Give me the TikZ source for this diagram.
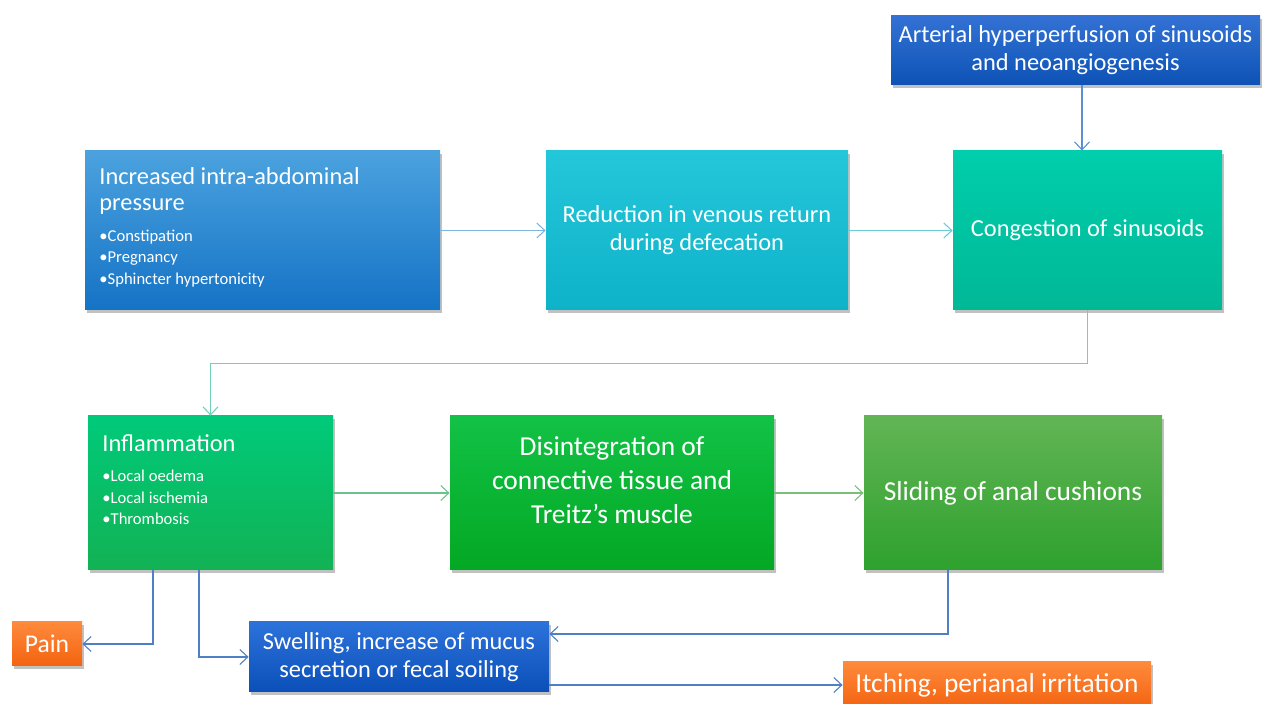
\documentclass[tikz,border=0pt]{standalone}
\usepackage{fontspec}
\setmainfont{Carlito}
\usetikzlibrary{arrows.meta,shadows,calc}
\definecolor{cTopA}{HTML}{3372D4}\definecolor{cTopB}{HTML}{0E52B6}
\definecolor{cB1A}{HTML}{4BA2DE}\definecolor{cB1B}{HTML}{1573C6}
\definecolor{cB2A}{HTML}{24C6D9}\definecolor{cB2B}{HTML}{0EB2C9}
\definecolor{cB3A}{HTML}{00CEAC}\definecolor{cB3B}{HTML}{00B896}
\definecolor{cB4A}{HTML}{00CA7A}\definecolor{cB4B}{HTML}{12B254}
\definecolor{cB5A}{HTML}{12C246}\definecolor{cB5B}{HTML}{03A823}
\definecolor{cB6A}{HTML}{62B555}\definecolor{cB6B}{HTML}{2EA12E}
\definecolor{cOrA}{HTML}{FF8A3C}\definecolor{cOrB}{HTML}{F26310}
\definecolor{cSwA}{HTML}{2B72DA}\definecolor{cSwB}{HTML}{0B50B8}
\definecolor{lB1}{HTML}{7EB6E0}\definecolor{lB2}{HTML}{6ACCD6}
\definecolor{lTop}{HTML}{5B8FD0}\definecolor{lB3}{HTML}{72D0BA}
\definecolor{lB4}{HTML}{6CC28C}\definecolor{lB5}{HTML}{7BBF7A}
\definecolor{lBlue}{HTML}{4F7FC5}
\tikzset{
  box/.style={rectangle, inner sep=0pt, text=white, align=center,
    drop shadow={shadow xshift=1.2pt, shadow yshift=-1.5pt, opacity=0.35, fill=black!70}},
  conn/.style={line width=0.55pt, -{Straight Barb[length=4pt,width=7.5pt,line width=0.55pt]}},
  bigtxt/.style={font=\fontsize{13.7}{17}\selectfont},
  midtxt/.style={font=\fontsize{12.2}{14}\selectfont},
  titletxt/.style={font=\fontsize{12.2}{13}\selectfont},
  bultxt/.style={font=\fontsize{8.3}{10.8}\selectfont},
}
\begin{document}
\begin{tikzpicture}[x=0.5pt,y=-0.5pt]
\useasboundingbox (0,0) rectangle (1266,704);
\clip (0,0) rectangle (1266,704);
% boxes
\node[box, midtxt, top color=cTopA, bottom color=cTopB, minimum width=184.5pt, minimum height=34.5pt] (top) at (1075.5,50.5) {Arterial hyperperfusion of sinusoids\\and neoangiogenesis};
\node[box, top color=cB1A, bottom color=cB1B, minimum width=177.5pt, minimum height=79.5pt] (b1) at (262.5,230.5) {};
\node[box, midtxt, top color=cB2A, bottom color=cB2B, minimum width=151pt, minimum height=79.5pt] (b2) at (697,230.5) {Reduction in venous return\\during defecation};
\node[box, midtxt, top color=cB3A, bottom color=cB3B, minimum width=134.5pt, minimum height=79.5pt] (b3) at (1087.5,230.5) {Congestion of sinusoids};
\node[box, top color=cB4A, bottom color=cB4B, minimum width=122.5pt, minimum height=77pt] (b4) at (210.5,493) {};
\node[box, top color=cB5A, bottom color=cB5B, minimum width=162pt, minimum height=77pt] (b5) at (612,493) {};
\node[box, bigtxt, top color=cB6A, bottom color=cB6B, minimum width=149pt, minimum height=77pt] (b6) at (1013,493) {Sliding of anal cushions};
\node[box, font=\fontsize{12.8}{14}\selectfont, top color=cOrA, bottom color=cOrB, minimum width=35pt, minimum height=22pt] (pain) at (47,644) {Pain};
\node[box, midtxt, top color=cSwA, bottom color=cSwB, minimum width=150pt, minimum height=35pt] (sw) at (399,657) {Swelling, increase of mucus\\secretion or fecal soiling};
\node[box, bigtxt, top color=cOrA, bottom color=cOrB, minimum width=154pt, minimum height=23pt] (it) at (997,685) {Itching, perianal irritation};
% texts inside boxes
\node[anchor=west, text=white, align=left, titletxt, inner sep=0pt] (b1t) at (99,191) {Increased intra-abdominal\\pressure};
\node[anchor=west, text=white, align=left, bultxt, inner sep=0pt] (b1l) at (99,258.5) {•Constipation\\•Pregnancy\\•Sphincter hypertonicity};
\node[anchor=west, text=white, align=left, titletxt, inner sep=0pt] (b4t) at (102,443) {Inflammation};
\node[anchor=west, text=white, align=left, bultxt, inner sep=0pt] (b4l) at (102,497.5) {•Local oedema\\•Local ischemia\\•Thrombosis};
\node[text=white, align=center, bigtxt, inner sep=0pt] (b5t) at (612,480) {Disintegration of\\connective tissue and\\Treitz’s muscle};
% connectors
\draw[conn, lB1] (b1.east) -- (b2.west);
\draw[conn, lB2] (b2.east) -- (b3.west);
\draw[conn, lTop] ([xshift=-2.75pt]b3.north |- top.south) -- ([xshift=-2.75pt]b3.north);
\draw[conn, lB3] (b3.south) -- ++(0,53) -| (b4.north);
\draw[conn, lB4] (b4.east) -- (b5.west);
\draw[conn, lB5] (b5.east) -- (b6.west);
\draw[conn, lBlue] ([xshift=-28.75pt]b4.south) |- (pain.east);
\draw[conn, lBlue] ([xshift=-5.75pt]b4.south) |- (sw.west);
\draw[conn, lBlue] ([xshift=-32.5pt]b6.south) |- ([yshift=11.5pt]sw.east);
\draw[conn, lBlue] (sw.east |- it.west) -- (it.west);
\end{tikzpicture}
\end{document}
